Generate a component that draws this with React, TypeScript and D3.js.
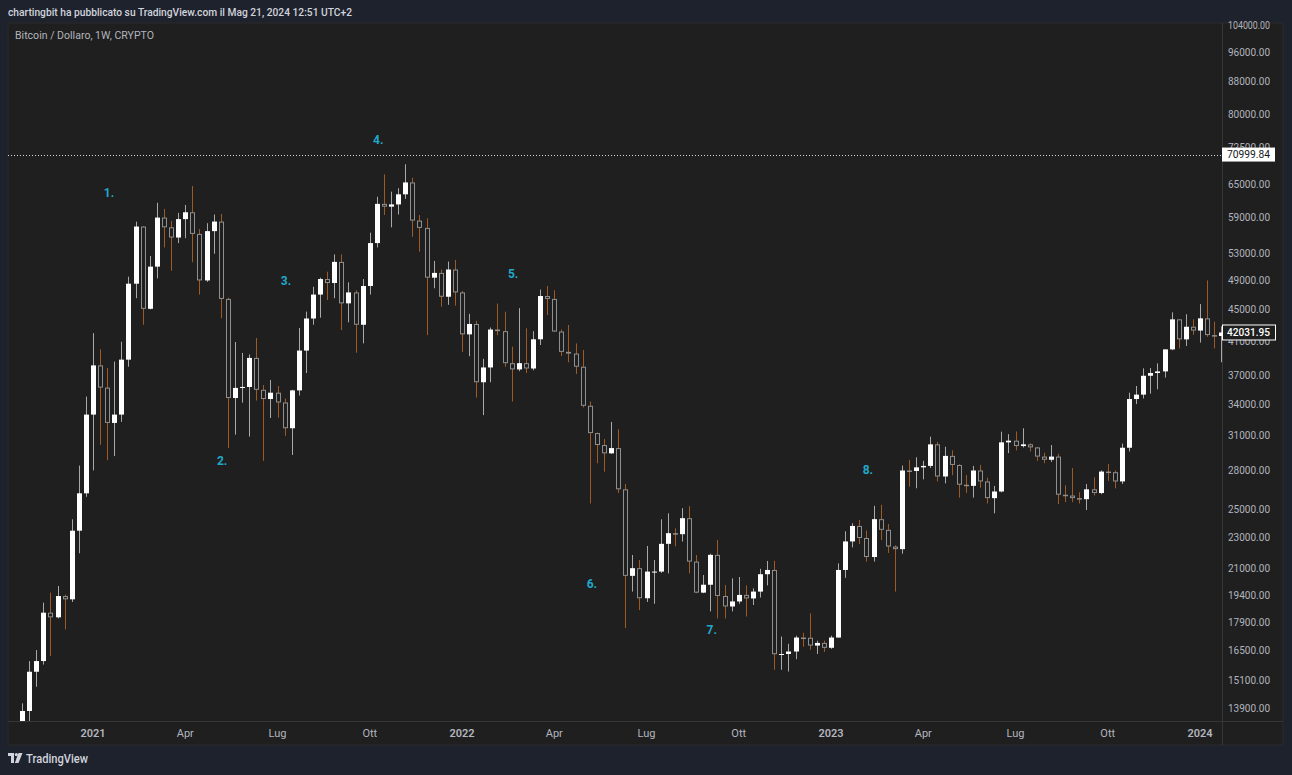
import React from 'react';
import * as d3 from 'd3';

// ---- DATA (weekly candles, CRYPTO:BTCUSD, 1W) ----
const START_DATE = '2020-10-26';
const opens = [
  13031, 13780, 15470, 15965, 18410, 18160, 19335, 19150, 23440, 26170,
  33000, 38150, 35730, 32200, 33000, 38800, 48530, 57430, 45070, 51030,
  58970, 57300, 55600, 58700, 59900, 56200, 49000, 56660, 58280, 46400,
  34650, 35700, 35800, 39000, 35500, 34550, 35200, 34200, 31700, 35440,
  39850, 43800, 47000, 49200, 48630, 51750, 45800, 47300, 43000, 48200,
  54700, 61400, 60900, 61300, 63150, 65400, 58450, 57200, 49400, 50100,
  46700, 50600, 47300, 41800, 43100, 36300, 37917, 42400, 42200, 38400,
  37700, 38400, 37800, 41200, 46800, 46400, 42150, 39700, 39500, 38000,
  33870, 31250, 30170, 29440, 29900, 26480, 20520, 20990, 19210, 20780,
  20780, 22550, 23270, 23200, 24320, 21400, 19530, 19990, 21830, 19340,
  18750, 19030, 19400, 19200, 19590, 20620, 20880, 16290, 16300, 16420,
  17110, 17100, 16710, 16840, 16600, 17110, 20880, 22710, 23770, 22940,
  21690, 24250, 23500, 22370, 22200, 27990, 27950, 28250, 28370, 30230,
  27500, 29220, 28450, 26840, 26750, 27990, 27100, 25800, 26310, 30410,
  30560, 30080, 30230, 29960, 29160, 28890, 29160, 26060, 26000, 25800,
  25720, 26480, 26190, 27900, 27850, 27100, 29930, 34550, 35000, 37000,
  37300, 37480, 39990, 43690, 41190, 42750, 42270, 43820, 41710, 41600,
];
const highs = [
  14094, 15965, 16490, 18960, 19530, 19915, 19420, 24240, 28400, 34800,
  41950, 40000, 37850, 38580, 40900, 49540, 58260, 57500, 52650, 61600,
  60500, 58400, 59800, 61200, 64700, 57000, 58000, 59500, 59600, 46600,
  40870, 39570, 39400, 41350, 36000, 36540, 35900, 34600, 35500, 42600,
  44700, 48100, 49400, 50270, 52900, 52900, 48730, 47600, 49200, 56400,
  62700, 66980, 63650, 64300, 69000, 66300, 59420, 58850, 51900, 50600,
  51800, 52050, 47500, 44400, 43500, 38900, 42650, 45770, 44690, 40300,
  45160, 42550, 42200, 47700, 48200, 47600, 42400, 42970, 40700, 39920,
  34300, 31300, 30700, 32300, 31600, 26900, 21820, 21500, 22410, 21500,
  24240, 24670, 23600, 25050, 25200, 21820, 20570, 21900, 22800, 19970,
  20370, 20450, 19950, 19780, 20950, 21440, 21450, 17160, 16800, 17200,
  17350, 18370, 16950, 16950, 17200, 21290, 23400, 23960, 24200, 23450,
  25220, 25300, 23900, 22450, 28400, 28880, 29100, 28800, 30920, 30450,
  30020, 29700, 28500, 27620, 28370, 28450, 27400, 26740, 31380, 31150,
  31400, 31700, 30330, 30000, 29500, 30170, 29400, 26800, 28190, 26250,
  26900, 27440, 28000, 28540, 28000, 30300, 35200, 35900, 37820, 37850,
  38380, 40000, 44600, 43700, 44350, 43700, 45700, 49000, 43390, 42800,
];
const lows = [
  12900, 13200, 14800, 15800, 16200, 18100, 17530, 19000, 21930, 25900,
  28000, 30200, 28850, 29200, 32300, 38000, 46500, 43000, 45000, 49300,
  54000, 50400, 54700, 55500, 51700, 47000, 48800, 53000, 43850, 29900,
  31100, 34180, 30930, 34400, 28800, 32670, 32700, 31000, 29300, 34900,
  37300, 43000, 43900, 46250, 46500, 42340, 43310, 39600, 40710, 47000,
  54000, 59420, 57300, 59500, 62300, 55740, 53330, 41700, 47880, 45350,
  45600, 45500, 39700, 39200, 34700, 32950, 36300, 41700, 38000, 34300,
  37500, 37300, 37600, 40510, 44250, 42100, 39220, 38500, 37200, 33700,
  25400, 28590, 27890, 29400, 26200, 17590, 19590, 18550, 19000, 18900,
  20700, 20670, 22390, 22700, 20670, 19500, 19500, 18480, 18100, 18100,
  18480, 18900, 18200, 18830, 19250, 19950, 15560, 15560, 15480, 16050,
  16650, 16500, 16300, 16400, 16550, 17100, 20400, 22320, 22530, 21400,
  21400, 22800, 21950, 19590, 21900, 26680, 26560, 27270, 28200, 27100,
  26950, 27600, 25840, 26200, 25840, 26600, 25400, 24670, 26250, 29460,
  29700, 29950, 29600, 28800, 28600, 28700, 25350, 25500, 25500, 25400,
  24910, 26000, 26100, 27150, 26550, 26900, 29600, 34040, 34600, 35100,
  35550, 36800, 39900, 40110, 40400, 41750, 40800, 41500, 40110, 38500,
];
const closes = [
  13780, 15470, 15965, 18410, 18160, 19335, 19150, 23440, 26170, 33000,
  38150, 35730, 32200, 33000, 38800, 48530, 57430, 45070, 51030, 58970,
  57300, 55600, 58700, 59900, 56200, 49000, 56660, 58280, 46400, 34650,
  35700, 35800, 39000, 35500, 34550, 35200, 34200, 31700, 35440, 39850,
  43800, 47000, 49200, 48630, 51750, 45800, 47300, 43000, 48200, 54700,
  61400, 60900, 61300, 63150, 65400, 58450, 57200, 49400, 50100, 46700,
  50600, 47300, 41800, 43100, 36300, 37917, 42400, 42200, 38400, 37700,
  38400, 37800, 41200, 46800, 46400, 42150, 39700, 39500, 38000, 33870,
  31250, 30170, 29440, 29900, 26480, 20520, 20990, 19210, 20780, 20780,
  22550, 23270, 23200, 24320, 21400, 19530, 19990, 21830, 19340, 18750,
  19030, 19400, 19200, 19590, 20620, 20880, 16290, 16300, 16420, 17110,
  17100, 16710, 16840, 16600, 17110, 20880, 22710, 23770, 22940, 21690,
  24250, 23500, 22370, 22200, 27990, 27950, 28250, 28370, 30230, 27500,
  29220, 28450, 26840, 26750, 27990, 27100, 25800, 26310, 30410, 30560,
  30080, 30230, 29960, 29160, 28890, 29160, 26060, 26000, 25800, 25720,
  26480, 26190, 27900, 27850, 27100, 29930, 34550, 35000, 37000, 37300,
  37480, 39990, 43690, 41190, 42750, 42270, 43820, 41710, 41600, 42031.95,
];

const priceTicks = [104000, 96000, 88000, 80000, 72500, 65000, 59000, 53000, 49000, 45000, 41000, 37000,
  34000, 31000, 28000, 25000, 23000, 21000, 19400, 17900, 16500, 15100, 13900];
const quarterMonthNames: Record<number, string> = { 3: 'Apr', 6: 'Lug', 9: 'Ott' };

const annotationLabels = ['1.', '2.', '3.', '4.', '5.', '6.', '7.', '8.'];
const annotationWeeks = [12.25, 28.2, 37.2, 50.2, 69.2, 80.3, 97.2, 119.2];
const annotationPrices = [63400, 28780, 48920, 74110, 49940, 20030, 17490, 28030];

const markerPrice = 70999.84;
const headerText = 'chartingbit ha pubblicato su TradingView.com il Mag 21, 2024 12:51 UTC+2';
const symbolText = 'Bitcoin / Dollaro, 1W, CRYPTO';

// ---- LAYOUT ----
const W = 1292;
const H = 775;
const panelL = 8, panelR = 1283, panelT = 23, panelB = 745;
const plotR = 1222, plotB = 721;

const BG_OUTER = '#1e222d';
const BG_CHART = '#1f1f1f';
const AXIS_TEXT = '#b2b5be';
const UP_FILL = '#ffffff';
const UP_WICK = '#a9a9a9';
const DOWN_STROKE = '#8f8f8f';
const DOWN_WICK = '#9e5a22';
const ANNOT = '#22a7cc';
const FONT = 'Roboto, "Noto Sans", sans-serif';

export default function App() {
  const start = new Date(START_DATE + 'T00:00:00');
  const dates = closes.map((_, i) => d3.timeWeek.offset(start, i));

  const x = d3.scaleLinear().domain([-1.98, 169.1]).range([panelL, plotR]);
  const y = d3.scaleLog().domain([13380, 104923]).range([plotB, 22]);

  const bodyW = 5;

  const candles = closes.map((c, i) => {
    const o = opens[i];
    const hi = highs[i];
    const lo = lows[i];
    const cx = Math.round(x(i));
    const up = c >= o;
    const yTop = y(Math.max(o, c));
    const yBot = y(Math.min(o, c));
    const h = Math.max(1, yBot - yTop);
    const wickColor = up ? UP_WICK : DOWN_WICK;
    return (
      <g key={i}>
        <line x1={cx + 0.5} x2={cx + 0.5} y1={y(hi)} y2={y(lo)} stroke={wickColor} strokeWidth={1} />
        {up ? (
          <rect x={cx - 2} y={yTop} width={bodyW} height={h} fill={UP_FILL} />
        ) : (
          <rect x={cx - 1.5} y={yTop + 0.5} width={bodyW - 1} height={Math.max(0.5, h - 1)}
            fill={BG_CHART} stroke={DOWN_STROKE} strokeWidth={1} />
        )}
      </g>
    );
  });

  // time ticks: first weekly bar of Jan / Apr / Jul / Oct
  const timeTicks: { i: number; label: string; year: boolean }[] = [];
  dates.forEach((d, i) => {
    if (i === 0) return;
    const m = d.getMonth();
    if (m !== dates[i - 1].getMonth() && m % 3 === 0) {
      timeTicks.push({ i, label: m === 0 ? String(d.getFullYear()) : quarterMonthNames[m], year: m === 0 });
    }
  });

  const lastClose = closes[closes.length - 1];
  const fmt = d3.format('.2f');

  return (
    <svg width={W} height={H} style={{ position: 'absolute', left: 0, top: 0, display: 'block' }}
      xmlns="http://www.w3.org/2000/svg">
      <defs>
        <clipPath id="plotClip">
          <rect x={panelL} y={panelT} width={plotR - panelL} height={plotB - panelT} />
        </clipPath>
        <clipPath id="tick72Clip">
          <rect x={plotR} y={0} width={70} height={y(markerPrice) - 7} />
        </clipPath>
      </defs>
      <rect x={0} y={0} width={W} height={H} fill={BG_OUTER} />
      <text x={8} y={16} fontFamily={FONT} fontSize={11} fontWeight={500} fill="#d1d4dc"
        textLength={344} lengthAdjust="spacingAndGlyphs">{headerText}</text>

      {/* chart panel */}
      <rect x={panelL} y={panelT} width={panelR - panelL} height={panelB - panelT} fill={BG_CHART}
        stroke="#2b2b2b" strokeWidth={1} />
      <line x1={plotR + 0.5} x2={plotR + 0.5} y1={panelT} y2={panelB} stroke="#363636" />
      <line x1={panelL} x2={panelR} y1={plotB + 0.5} y2={plotB + 0.5} stroke="#363636" />

      <text x={15} y={39} fontFamily={FONT} fontSize={11} fill={AXIS_TEXT}
        textLength={139} lengthAdjust="spacingAndGlyphs">{symbolText}</text>

      <g clipPath="url(#plotClip)">
        {/* dotted marker line */}
        <line x1={panelL} x2={plotR} y1={Math.round(y(markerPrice)) + 0.5} y2={Math.round(y(markerPrice)) + 0.5}
          stroke="#d1d4dc" strokeWidth={1} strokeDasharray="1,2" />
        {candles}
        {annotationLabels.map((t, k) => (
          <text key={t} x={x(annotationWeeks[k])} y={y(annotationPrices[k])} dy="0.35em" textAnchor="middle"
            fontFamily={FONT} fontSize={12} fontWeight={700} fill={ANNOT}>{t}</text>
        ))}
      </g>

      {/* price axis */}
      <g>
        {priceTicks.map((p) => (
          <text key={p} x={1228} y={y(p)} dy="0.35em" fontFamily={FONT} fontSize={10.5} fill={AXIS_TEXT}
            textLength={42} lengthAdjust="spacingAndGlyphs">{fmt(p)}</text>
        ))}
      </g>

      {/* time axis */}
      <g>
        {timeTicks.map((t) => (
          <text key={t.i} x={x(t.i)} y={733} dy="0.35em" textAnchor="middle" fontFamily={FONT}
            fontSize={11} fontWeight={t.year ? 600 : 400} fill={AXIS_TEXT}>{t.label}</text>
        ))}
      </g>

      {/* marker price label */}
      <g transform={`translate(${plotR},${y(markerPrice)})`}>
        <rect x={0} y={-7} width={53} height={14} fill="#ffffff" />
        <text x={5} y={0} dy="0.35em" fontFamily={FONT} fontSize={10.5} fill="#131722"
          textLength={43} lengthAdjust="spacingAndGlyphs">{fmt(markerPrice)}</text>
      </g>

      {/* last price label */}
      <g transform={`translate(${plotR},${y(lastClose)})`}>
        <rect x={0.5} y={-7.5} width={53} height={15} fill={BG_CHART} stroke="#ffffff" strokeWidth={1} />
        <text x={5} y={0} dy="0.35em" fontFamily={FONT} fontSize={11} fontWeight={500} fill="#ffffff"
          textLength={43} lengthAdjust="spacingAndGlyphs">{fmt(lastClose)}</text>
      </g>

      {/* TradingView logo */}
      <g transform="translate(8,753)">
        <path d="M0 0 H6 V10 H3 V3 H0 Z" fill="#d1d4dc" />
        <circle cx={8.3} cy={1.6} r={1.6} fill="#d1d4dc" />
        <path d="M10.5 0 H14.5 L10.5 10 H6.8 Z" fill="#d1d4dc" />
      </g>
      <text x={26} y={763} fontFamily={FONT} fontSize={12} fontWeight={500} fill="#d1d4dc"
        textLength={62} lengthAdjust="spacingAndGlyphs">TradingView</text>
    </svg>
  );
}
